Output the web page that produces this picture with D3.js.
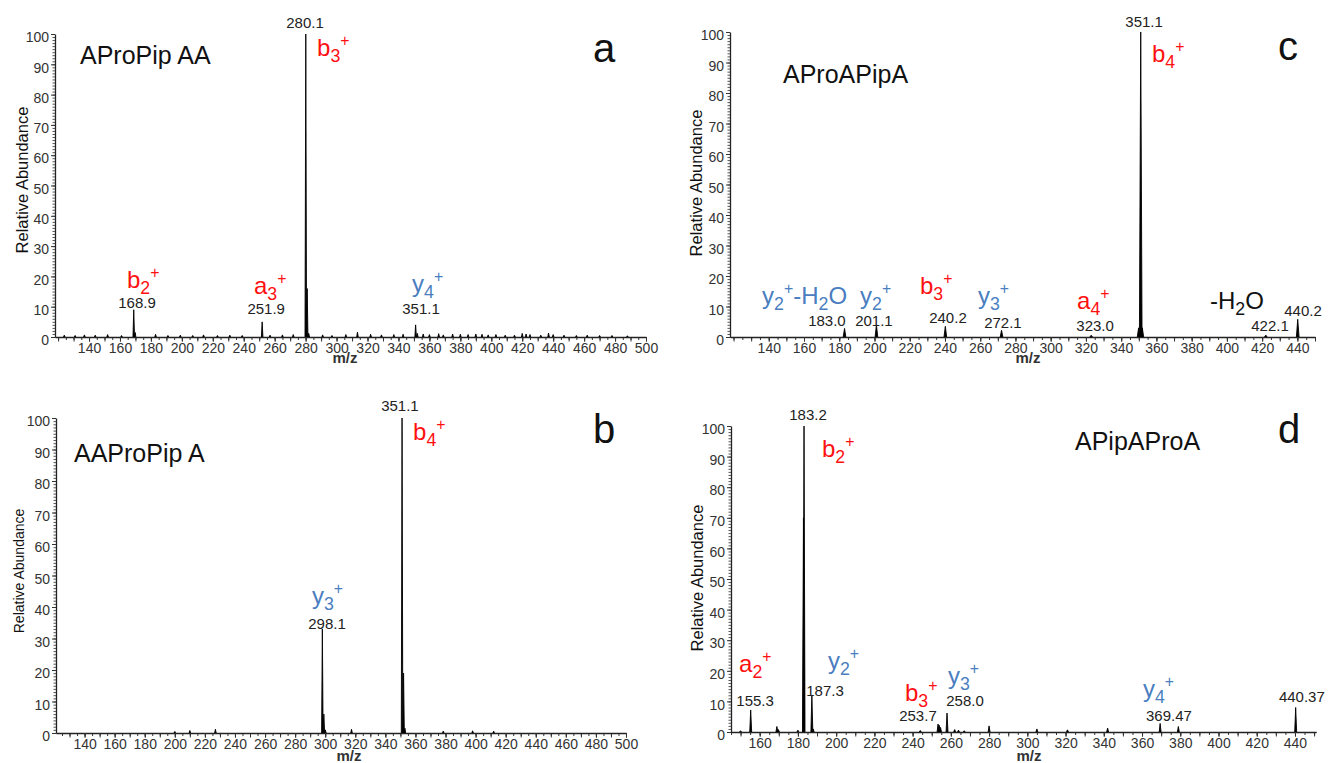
<!DOCTYPE html>
<html><head><meta charset="utf-8">
<script src="https://cdn.jsdelivr.net/npm/d3@7"></script>
<style>body{margin:0;background:#fff}</style>
</head><body>
<svg id="chart" width="1328" height="763"></svg>
<script>
// ---------- DATA ----------
// Panel a: AProPip AA
const mzA  = [124,131,137,144,152,161,168.9,169.8,183,191,199,207,214,223,231,239,251.9,257,265,272,280.1,281.0,282.0,291,297,306,313.5,322,329,337,343,351.1,352.2,356,360,366,369,375,380,385,390,394,398,403,409,415,420,422.5,425,432,437,440,447,455,462,470,478,488];
const intA = [0.6,0.5,0.7,0.6,0.8,0.5,9,1.5,0.9,0.5,0.6,0.5,0.7,0.5,0.6,0.5,5,0.6,0.7,0.8,100,16,1.2,0.7,0.5,0.8,1.6,0.9,0.7,0.8,0.9,4,1.2,1.0,0.8,1.1,0.7,1.0,0.9,0.8,1.0,0.9,0.7,0.8,0.6,0.6,1.2,1.0,0.8,0.6,1.3,0.8,0.6,0.5,0.6,0.5,0.5,0.4];
// Panel b: AAProPip A
const mzB  = [200,210,227,298.1,299.1,300.1,317.5,351.1,352.1,353,378.5,398,412];
const intB = [0.5,0.8,1.2,33,6,1,1.2,100,19,1.5,0.6,0.7,0.6];
// Panel c: AProAPipA
const mzC  = [183.0,201.1,240.2,272.1,323.0,349.9,351.1,352.0,422.1,440.2];
const intC = [2.8,4,3.5,2.2,0.6,3,100,3,0.6,5.8];
// Panel d: APipAProA
const mzD  = [150,155.3,169.0,169.8,180,182.9,183.2,187.3,188,244,253.3,253.9,254.6,258.0,262,264,267,280.0,305,321,342,369.47,379.0,440.37];
const intD = [0.4,7.2,1.8,0.8,0.6,70,100,12,1,0.5,2.6,2.2,1.5,6.2,0.8,0.6,0.4,2,1,0.7,1.3,2.8,1.8,8];

// Tick labels
const xTicksA = [140,160,180,200,220,240,260,280,300,320,340,360,380,400,420,440,460,480,500];
const xTicksB = [140,160,180,200,220,240,260,280,300,320,340,360,380,400,420,440,460,480,500];
const xTicksC = [140,160,180,200,220,240,260,280,300,320,340,360,380,400,420,440];
const xTicksD = [160,180,200,220,240,260,280,300,320,340,360,380,400,420,440];
const yTicks  = [0,10,20,30,40,50,60,70,80,90,100];

// Titles
const titles = ["AProPip AA","AAProPip A","AProAPipA","APipAProA"];
const letters = ["a","b","c","d"];

// Annotations: text, kind, anchor (m/z, % abundance)
const annA = [
  {t:"280.1", k:"num", mz:279.6, v:102},
  {t:"b_3^+", k:"red", mz:287.4, v:92.8},
  {t:"b_2^+", k:"red", mz:164.5, v:16.2},
  {t:"168.9", k:"num", mz:171,   v:9.6},
  {t:"a_3^+", k:"red", mz:246.6, v:14.2},
  {t:"251.9", k:"num", mz:254.5, v:7.6},
  {t:"y_4^+", k:"blue",mz:348.8, v:14.8},
  {t:"351.1", k:"num", mz:354.6, v:7.6}
];
const annB = [
  {t:"351.1", k:"num", mz:349.7, v:102.2},
  {t:"b_4^+", k:"red", mz:358.4, v:93},
  {t:"y_3^+", k:"blue",mz:291.2, v:40.8},
  {t:"298.1", k:"num", mz:301.2, v:33.0}
];
const annC = [
  {t:"y_2^+-H_2O", k:"blue", mz:136.2, v:10.8},
  {t:"183.0", k:"num", mz:173,   v:3.7},
  {t:"y_2^+", k:"blue",mz:191.8, v:10.8},
  {t:"201.1", k:"num", mz:199.7, v:3.7},
  {t:"b_3^+", k:"red", mz:225.8, v:14.0},
  {t:"240.2", k:"num", mz:241.7, v:4.7},
  {t:"y_3^+", k:"blue",mz:258.7, v:10.8},
  {t:"272.1", k:"num", mz:272.9, v:2.8},
  {t:"a_4^+", k:"red", mz:315,   v:9.2},
  {t:"323.0", k:"num", mz:325.2, v:2.1},
  {t:"351.1", k:"num", mz:353,   v:101.6},
  {t:"b_4^+", k:"red", mz:357.5, v:90.2},
  {t:"-H_2O", k:"black",mz:390.4, v:9.2},
  {t:"422.1", k:"num", mz:424.5, v:2.1},
  {t:"440.2", k:"num", mz:443.2, v:7.0}
];
const annD = [
  {t:"183.2", k:"num", mz:185.3, v:102},
  {t:"b_2^+", k:"red", mz:192.6, v:89.9},
  {t:"a_2^+", k:"red", mz:149.2, v:19.6},
  {t:"155.3", k:"num", mz:157.6, v:8.6},
  {t:"y_2^+", k:"blue",mz:195.7, v:20.6},
  {t:"187.3", k:"num", mz:194.2, v:11.9},
  {t:"b_3^+", k:"red", mz:236,   v:10.1},
  {t:"253.7", k:"num", mz:242.8, v:3.7},
  {t:"y_3^+", k:"blue",mz:258.5, v:15.6},
  {t:"258.0", k:"num", mz:267.4, v:8.6},
  {t:"y_4^+", k:"blue",mz:360.5, v:11.4},
  {t:"369.47",k:"num", mz:374.1, v:3.7},
  {t:"440.37",k:"num", mz:443.6, v:9.8}
];

// ---------- LAYOUT ----------
const FONT = "'Liberation Sans', Arial, sans-serif";
const NARROW = "'Liberation Sans Narrow', 'Arial Narrow', 'Liberation Sans', Arial, sans-serif";
const RED = "#ff1010", BLUE = "#4a7ec0";

const panels = [
  {mz:mzA, it:intA, ann:annA, xt:xTicksA, title:titles[0], letter:letters[0],
   xd:[118,500], xr:[55,646], yr:[337,34], hw:0.5,
   titlePos:[80,64], letterPos:[593,62], ylab:[22,180,16.5], mzlab:[345,363]},
  {mz:mzB, it:intB, ann:annB, xt:xTicksB, title:titles[1], letter:letters[1],
   xd:[121,500], xr:[56,626], yr:[733,418], hw:0.5,
   titlePos:[74,462], letterPos:[593,443], ylab:[19,571,14], mzlab:[349,761]},
  {mz:mzC, it:intC, ann:annC, xt:xTicksC, title:titles[2], letter:letters[2],
   xd:[118,450], xr:[730,1315], yr:[337,32], hw:0.75,
   titlePos:[783,83], letterPos:[1278,60], ylab:[696,183,16.5], mzlab:[1028,363]},
  {mz:mzD, it:intD, ann:annD, xt:xTicksD, title:titles[3], letter:letters[3],
   xd:[145,451], xr:[731,1316], yr:[732,426], hw:0.5,
   titlePos:[1075,450], letterPos:[1278,443], ylab:[697,578,16.5], mzlab:[1029,761]}
];

const svg = d3.select("#chart");

function richText(g, str, x, y, size, color, anchor) {
  const t = g.append("text").attr("x", x).attr("y", y)
    .attr("font-family", FONT).attr("font-size", size).attr("fill", color)
    .attr("text-anchor", anchor || "start");
  let cur = 0, i = 0;
  while (i < str.length) {
    let ch = str[i], target = 0, fs = size;
    if (ch === "_") { ch = str[++i]; target = 0.24 * size; fs = 0.74 * size; }
    else if (ch === "^") { ch = str[++i]; target = -0.42 * size; fs = 0.66 * size; }
    let buf = ch; i++;
    if (target === 0) { while (i < str.length && str[i] !== "_" && str[i] !== "^") buf += str[i++]; }
    t.append("tspan").attr("dy", target - cur).attr("font-size", fs).text(buf);
    cur = target;
  }
  return t;
}

panels.forEach(p => {
  const g = svg.append("g");
  const x = d3.scaleLinear().domain(p.xd).range(p.xr);
  const y = d3.scaleLinear().domain([0, 100]).range(p.yr);
  const y0 = p.yr[0];

  // minor x ticks
  const minor = d3.range(Math.ceil(p.xd[0] / 5) * 5, p.xd[1] + 0.01, 5);
  g.append("g").attr("transform", `translate(0,${y0})`)
    .call(d3.axisBottom(x).tickValues(minor).tickSize(3).tickSizeOuter(0).tickFormat(""))
    .call(s => s.selectAll("line,path").attr("stroke", "#333"));
  const mid = d3.range(Math.ceil(p.xd[0] / 10) * 10, p.xd[1] + 0.01, 10);
  g.append("g").attr("transform", `translate(0,${y0})`)
    .call(d3.axisBottom(x).tickValues(mid).tickSize(4.5).tickSizeOuter(0).tickFormat(""))
    .call(s => s.select(".domain").remove())
    .call(s => s.selectAll("line").attr("stroke", "#333"));
  g.append("g").attr("transform", `translate(0,${y0})`)
    .call(d3.axisBottom(x).tickValues(p.xt).tickSize(4.5).tickPadding(2).tickSizeOuter(0).tickFormat(d3.format("d")))
    .call(s => s.select(".domain").attr("stroke", "#222").attr("stroke-width", 1.3))
    .call(s => s.selectAll("line").attr("stroke", "#333"))
    .call(s => s.selectAll("text").attr("font-family", NARROW).attr("font-size", 14).attr("fill", "#333"));

  // y axis
  g.append("g").attr("transform", `translate(${p.xr[0]},0)`)
    .call(d3.axisLeft(y).tickValues(d3.range(0, 100.01, 1)).tickSize(2.5).tickSizeOuter(0).tickFormat(""))
    .call(s => s.selectAll("line").attr("stroke", "#555"))
    .call(s => s.select(".domain").attr("stroke", "#222").attr("stroke-width", 1.3));
  g.append("g").attr("transform", `translate(${p.xr[0]},0)`)
    .call(d3.axisLeft(y).tickValues(yTicks).tickSize(4).tickPadding(2).tickSizeOuter(0).tickFormat(d3.format("d")))
    .call(s => s.select(".domain").remove())
    .call(s => s.selectAll("line").attr("stroke", "#333"))
    .call(s => s.selectAll("text").attr("font-family", NARROW).attr("font-size", 14).attr("fill", "#333").attr("dy", "0.55em"));

  // peaks
  const line = d3.line().x(d => x(d[0])).y(d => y(d[1]));
  const peaks = p.mz.map((m, i) => [[m - p.hw, 0], [m, p.it[i]], [m + p.hw, 0]]);
  g.append("g").selectAll("path").data(peaks).join("path")
    .attr("d", line).attr("fill", "#000").attr("stroke", "#000").attr("stroke-width", 0.9)
    .attr("stroke-linejoin", "miter");

  // axis titles
  g.append("text").attr("transform", `translate(${p.ylab[0]},${p.ylab[1]}) rotate(-90)`)
    .attr("text-anchor", "middle").attr("dy", "0.35em")
    .attr("font-family", FONT).attr("font-size", p.ylab[2]).attr("fill", "#111").text("Relative Abundance");
  g.append("text").attr("x", p.mzlab[0]).attr("y", p.mzlab[1]).attr("text-anchor", "middle")
    .attr("font-family", FONT).attr("font-size", 15).attr("font-weight", "bold").attr("fill", "#333").text("m/z");

  // title & letter
  g.append("text").attr("x", p.titlePos[0]).attr("y", p.titlePos[1])
    .attr("font-family", FONT).attr("font-size", 25).attr("fill", "#111").text(p.title);
  g.append("text").attr("x", p.letterPos[0]).attr("y", p.letterPos[1])
    .attr("font-family", FONT).attr("font-size", 40).attr("fill", "#111").text(p.letter);

  // annotations
  p.ann.forEach(a => {
    const ax = x(a.mz), ay = y(a.v);
    if (a.k === "num") {
      g.append("text").attr("x", ax).attr("y", ay).attr("text-anchor", "middle")
        .attr("font-family", FONT).attr("font-size", 15).attr("fill", "#222").text(a.t);
    } else {
      const col = a.k === "red" ? RED : a.k === "blue" ? BLUE : "#111";
      richText(g, a.t, ax, ay, 24, col, "start");
    }
  });
});
</script>
</body></html>
